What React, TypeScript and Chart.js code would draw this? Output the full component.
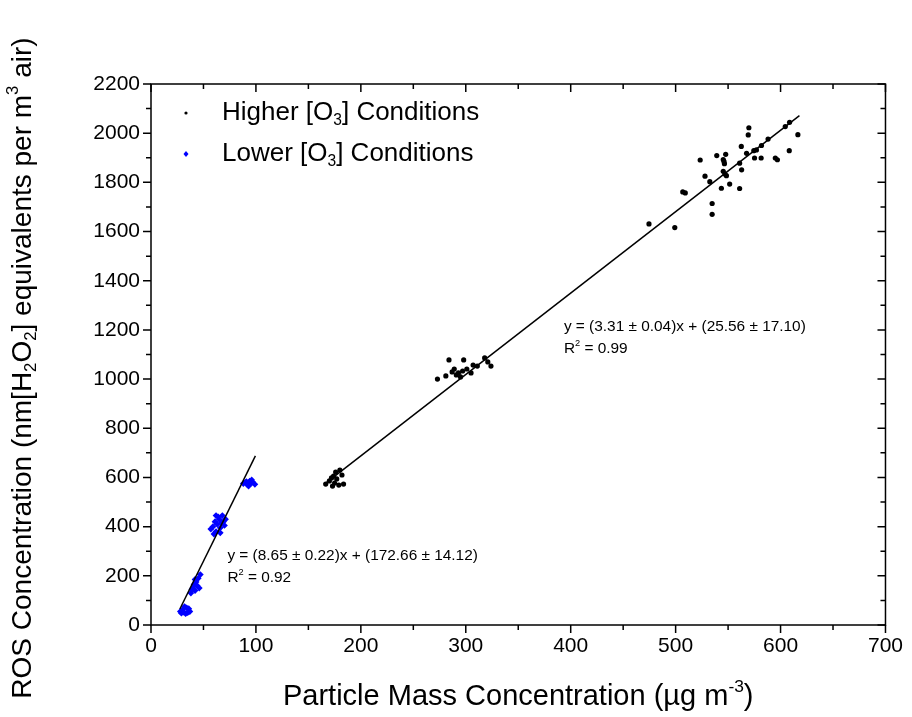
import React, { useEffect, useRef } from "react";
import { Chart, registerables } from "chart.js";

Chart.register(...registerables);

// Higher [O3] conditions (x: particle mass, y: ROS)
const highX = [
  166.5, 170, 172, 174, 175, 176, 177, 179, 180, 182, 183.5, 173,
  273, 281, 284, 287, 289, 291, 293, 295, 297, 298, 301, 305, 307, 311, 318, 321, 324,
  474.6, 499.2, 506.8, 509.2, 523.4, 528, 532.6, 534.8, 534.8, 539.2, 543.6, 545.4, 546.1, 546.5,
  547.7, 545.4, 547, 548.4, 551.5, 561, 562.6, 562.9, 561, 567.6, 569.2, 569.8, 574.5, 577,
  575.2, 581.5, 581.8, 588.1, 595, 597, 604.5, 608.6, 608.3, 616.5,
];
const highY = [
  573, 586, 598, 606, 577, 622, 594, 569, 630, 610, 573, 565,
  1000, 1013, 1078, 1029, 1041, 1017, 1025, 1009, 1033, 1078, 1041, 1025, 1057, 1053, 1086, 1070, 1053,
  1631, 1616, 1761, 1757, 1891, 1825, 1803, 1714, 1670, 1909, 1776, 1893, 1885, 1876,
  1914, 1845, 1834, 1827, 1793, 1878, 1946, 1851, 1775, 1918, 1993, 2022, 1929, 1932,
  1899, 1899, 1950, 1976, 1899, 1892, 2027, 2044, 1929, 1994,
];

// Lower [O3] conditions
const lowX = [
  29, 31, 33, 35, 30, 34, 36, 32, 28, 37,
  38, 40, 41, 42, 43, 44, 45, 46, 47, 42, 39,
  57, 59, 60, 61, 62, 63, 64, 65, 66, 67, 68, 69, 70, 62, 66, 71,
  88, 90, 92, 94, 95, 97, 99, 93, 96, 91,
];
const lowY = [
  48, 52, 46, 50, 62, 70, 66, 75, 55, 55,
  130, 150, 165, 140, 175, 160, 190, 150, 205, 185, 145,
  390, 400, 370, 420, 380, 410, 440, 430, 395, 415, 445, 420, 405, 445, 375, 430,
  575, 580, 570, 585, 575, 580, 572, 565, 590, 583,
];

// Linear fits (as drawn)
const highFitSlope = 3.31;
const highFitIntercept = 25.56;
const highFitRange = [165, 618];
const lowFitSlope = 8.65;
const lowFitIntercept = -172.66;
const lowFitRange = [27.5, 99.5];

const xTicks = [0, 100, 200, 300, 400, 500, 600, 700];
const yTicks = [0, 200, 400, 600, 800, 1000, 1200, 1400, 1600, 1800, 2000, 2200];

const FONT = "'Liberation Sans', Arial, sans-serif";

type Part = { t: string; s?: "sub" | "sup" };

function richWidth(ctx: CanvasRenderingContext2D, parts: Part[], size: number) {
  let w = 0;
  for (const p of parts) {
    ctx.font = `${p.s ? size * 0.6 : size}px ${FONT}`;
    w += ctx.measureText(p.t).width;
  }
  return w;
}

function drawRich(ctx: CanvasRenderingContext2D, parts: Part[], x: number, y: number, size: number) {
  let cx = x;
  ctx.textBaseline = "middle";
  ctx.textAlign = "left";
  for (const p of parts) {
    const sz = p.s ? size * 0.6 : size;
    ctx.font = `${sz}px ${FONT}`;
    let dy = 0;
    if (p.s === "sub") dy = size * 0.3;
    if (p.s === "sup") dy = -size * 0.35;
    ctx.fillText(p.t, cx, y + dy);
    cx += ctx.measureText(p.t).width;
  }
}

const xTitle: Part[] = [{ t: "Particle Mass Concentration (\u00b5g m" }, { t: "-3", s: "sup" }, { t: ")" }];
const yTitle: Part[] = [
  { t: "ROS Concentration (nm[H" },
  { t: "2", s: "sub" },
  { t: "O" },
  { t: "2", s: "sub" },
  { t: "] equivalents per m" },
  { t: "3", s: "sup" },
  { t: " air)" },
];
const legendHigh: Part[] = [{ t: "Higher [O" }, { t: "3", s: "sub" }, { t: "] Conditions" }];
const legendLow: Part[] = [{ t: "Lower [O" }, { t: "3", s: "sub" }, { t: "] Conditions" }];

const annoPlugin = {
  id: "anno",
  afterDraw(chart: any) {
    const ctx: CanvasRenderingContext2D = chart.ctx;
    const { left, right, top, bottom } = chart.chartArea;
    const xs = chart.scales.x;
    const ys = chart.scales.y;
    ctx.save();
    ctx.strokeStyle = "#000";
    ctx.fillStyle = "#000";
    ctx.lineWidth = 1.5;
    ctx.strokeRect(left, top, right - left, bottom - top);
    ctx.beginPath();
    for (let v = 0; v <= 700; v += 50) {
      const px = xs.getPixelForValue(v);
      const L = v % 100 === 0 ? 8 : 5;
      ctx.moveTo(px, bottom);
      ctx.lineTo(px, bottom + L);
      ctx.moveTo(px, top);
      ctx.lineTo(px, top + L);
    }
    for (let v = 0; v <= 2200; v += 100) {
      const py = ys.getPixelForValue(v);
      const L = v % 200 === 0 ? 8 : 5;
      ctx.moveTo(left, py);
      ctx.lineTo(left - L, py);
      ctx.moveTo(right, py);
      ctx.lineTo(right - L, py);
    }
    ctx.stroke();

    // axis titles
    const xw = richWidth(ctx, xTitle, 29);
    drawRich(ctx, xTitle, (left + right) / 2 - xw / 2, 697, 29);
    ctx.save();
    ctx.translate(23, 368);
    ctx.rotate(-Math.PI / 2);
    const yw = richWidth(ctx, yTitle, 28);
    drawRich(ctx, yTitle, -yw / 2, 0, 28);
    ctx.restore();

    // legend
    ctx.fillStyle = "#000";
    ctx.beginPath();
    ctx.arc(186, 113, 1.6, 0, Math.PI * 2);
    ctx.fill();
    drawRich(ctx, legendHigh, 222, 113, 26);
    ctx.fillStyle = "#0000ff";
    ctx.beginPath();
    ctx.moveTo(186, 151);
    ctx.lineTo(188.5, 154);
    ctx.lineTo(186, 157);
    ctx.lineTo(183.5, 154);
    ctx.closePath();
    ctx.fill();
    ctx.fillStyle = "#000";
    drawRich(ctx, legendLow, 222, 154, 26);

    // fit annotations
    const fs = 15.4;
    const a1x = xs.getPixelForValue(393.5);
    drawRich(ctx, [{ t: "y = (3.31 \u00b1 0.04)x + (25.56 \u00b1 17.10)" }], a1x, ys.getPixelForValue(1212), fs);
    drawRich(ctx, [{ t: "R" }, { t: "2", s: "sup" }, { t: " = 0.99" }], a1x, ys.getPixelForValue(1122), fs);
    const a2x = xs.getPixelForValue(72.8);
    drawRich(ctx, [{ t: "y = (8.65 \u00b1 0.22)x + (172.66 \u00b1 14.12)" }], a2x, ys.getPixelForValue(281), fs);
    drawRich(ctx, [{ t: "R" }, { t: "2", s: "sup" }, { t: " = 0.92" }], a2x, ys.getPixelForValue(191), fs);
    ctx.restore();
  },
};

export default function App() {
  const ref = useRef<HTMLCanvasElement | null>(null);
  useEffect(() => {
    if (!ref.current) return;
    const highPts = highX.map((x, i) => ({ x, y: highY[i] }));
    const lowPts = lowX.map((x, i) => ({ x, y: lowY[i] }));
    const highFit = highFitRange.map((x) => ({ x, y: highFitSlope * x + highFitIntercept }));
    const lowFit = lowFitRange.map((x) => ({ x, y: lowFitSlope * x + lowFitIntercept }));
    const chart = new Chart(ref.current, {
      type: "scatter",
      data: {
        datasets: [
          { label: "Higher fit", data: highFit, showLine: true, borderColor: "#000", borderWidth: 1.5, pointRadius: 0 },
          { label: "Lower fit", data: lowFit, showLine: true, borderColor: "#000", borderWidth: 1.5, pointRadius: 0 },
          {
            label: "Higher [O3] Conditions",
            data: highPts,
            pointRadius: 2.6,
            pointStyle: "circle",
            backgroundColor: "#000",
            borderColor: "#000",
            borderWidth: 0,
          },
          {
            label: "Lower [O3] Conditions",
            data: lowPts,
            pointRadius: 3.4,
            pointStyle: "rectRot",
            backgroundColor: "#0000ff",
            borderColor: "#0000ff",
            borderWidth: 0,
          },
        ],
      },
      options: {
        responsive: false,
        animation: false,
        layout: { padding: { left: 0, top: 84, right: 21, bottom: 0 } },
        plugins: { legend: { display: false }, tooltip: { enabled: false } },
        scales: {
          x: {
            type: "linear",
            min: 0,
            max: 700,
            afterBuildTicks: (s: any) => {
              s.ticks = xTicks.map((v) => ({ value: v }));
            },
            afterFit: (s: any) => {
              s.height = 92;
            },
            grid: { display: false, drawTicks: false },
            border: { display: false },
            ticks: {
              color: "#000",
              font: { size: 21, family: FONT },
              padding: 9,
              maxRotation: 0,
              callback: (v: any) => String(v),
            },
          },
          y: {
            type: "linear",
            min: 0,
            max: 2200,
            afterBuildTicks: (s: any) => {
              s.ticks = yTicks.map((v) => ({ value: v }));
            },
            afterFit: (s: any) => {
              s.width = 151;
            },
            grid: { display: false, drawTicks: false },
            border: { display: false },
            ticks: {
              color: "#000",
              font: { size: 21, family: FONT },
              padding: 11,
              callback: (v: any) => String(v),
            },
          },
        },
      },
      plugins: [annoPlugin],
    });
    return () => chart.destroy();
  }, []);
  return (
    <div style={{ position: "absolute", left: 0, top: 0, width: 912, height: 717, background: "#fff" }}>
      <canvas ref={ref} width={912} height={717} style={{ display: "block" }} />
    </div>
  );
}
